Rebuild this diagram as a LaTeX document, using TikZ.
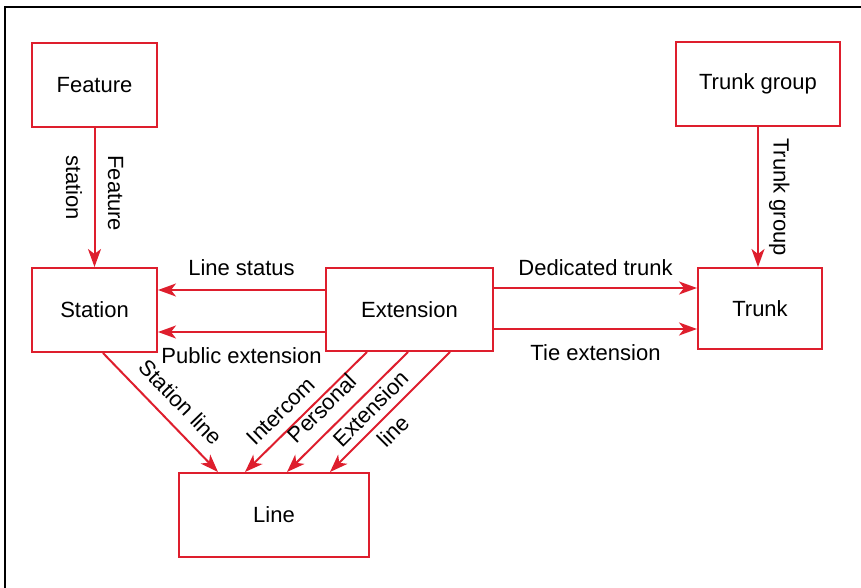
\documentclass[tikz,border=0pt]{standalone}
\usepackage{fontspec}
\setmainfont{Liberation Sans}
\usetikzlibrary{positioning, arrows.meta}
\definecolor{linkred}{RGB}{222,30,45}

\begin{document}
\begin{tikzpicture}[x=0.5pt, y=-0.5pt,
					box/.style={draw=linkred, line width=1pt, minimum height=42pt, font=\fontsize{11}{13}\selectfont},
					link/.style={draw=linkred, line width=1pt, -{Stealth[length=9pt, width=6.5pt, inset=2.5pt]}},
					lbl/.style={font=\fontsize{11}{13}\selectfont, text=black}]
					\useasboundingbox (0,0) rectangle (861,588);
					\draw[line width=1pt] (861,7) -- (5,7) -- (5,588);
					\node[box, minimum width=62.5pt] (feature) at (94.5,85) {Feature};
					\node[box, minimum width=82pt] (trunkgroup) at (758,84) {Trunk group};
					\node[box, minimum width=62.5pt] (station) at (94.5,310) {Station};
					\node[box, minimum width=83.5pt, minimum height=41.5pt] (extension) at (409.5,309.5) {Extension};
					\node[box, minimum width=62pt, minimum height=40.5pt] (trunk) at (760,308.5) {Trunk};
					\node[box, minimum width=95pt] (line) at (274,515) {Line};
					\draw[link] (feature) -- node[lbl, pos=0.47, rotate=-90, align=left] {Feature\\[8pt]station} (station);
					\draw[link] (trunkgroup) -- (trunkgroup |- trunk.north)
						node[lbl, midway, rotate=-90, anchor=south, inner sep=5pt] {Trunk group};
					\draw[link] ([yshift=9.75pt]extension.west) -- ([yshift=9.75pt]extension.west -| station.east)
						node[lbl, midway, above=3.5pt] {Line status};
					\draw[link] ([yshift=-11.25pt]extension.west) -- ([yshift=-11.25pt]extension.west -| station.east)
						node[lbl, midway, below=4pt] {Public extension};
					\draw[link] ([yshift=10.75pt]extension.east) -- ([yshift=10.75pt]extension.east -| trunk.west)
						node[lbl, midway, above=2.5pt] {Dedicated trunk};
					\draw[link] ([yshift=-9.75pt]extension.east) -- ([yshift=-9.75pt]extension.east -| trunk.west)
						node[lbl, midway, below=4pt] {Tie extension};
					\draw[link] ([xshift=4.25pt]station.south) -- node[lbl, pos=0.54, sloped, above=3pt] {Station line} ([xshift=-28pt]line.north);
					\draw[link] ([xshift=-21.25pt]extension.south) -- node[lbl, pos=0.6, sloped, above=1.5pt] {Intercom} ([xshift=-14.5pt]line.north);
					\draw[link] ([xshift=-0.75pt]extension.south) -- node[lbl, pos=0.59, sloped, above=2.5pt] {Personal} ([xshift=6.5pt]line.north);
					\draw[link] ([xshift=20.25pt]extension.south) -- node[lbl, pos=0.566, sloped, align=center] {Extension\\[3pt]line} ([xshift=28pt]line.north);
				\end{tikzpicture}
\end{document}
